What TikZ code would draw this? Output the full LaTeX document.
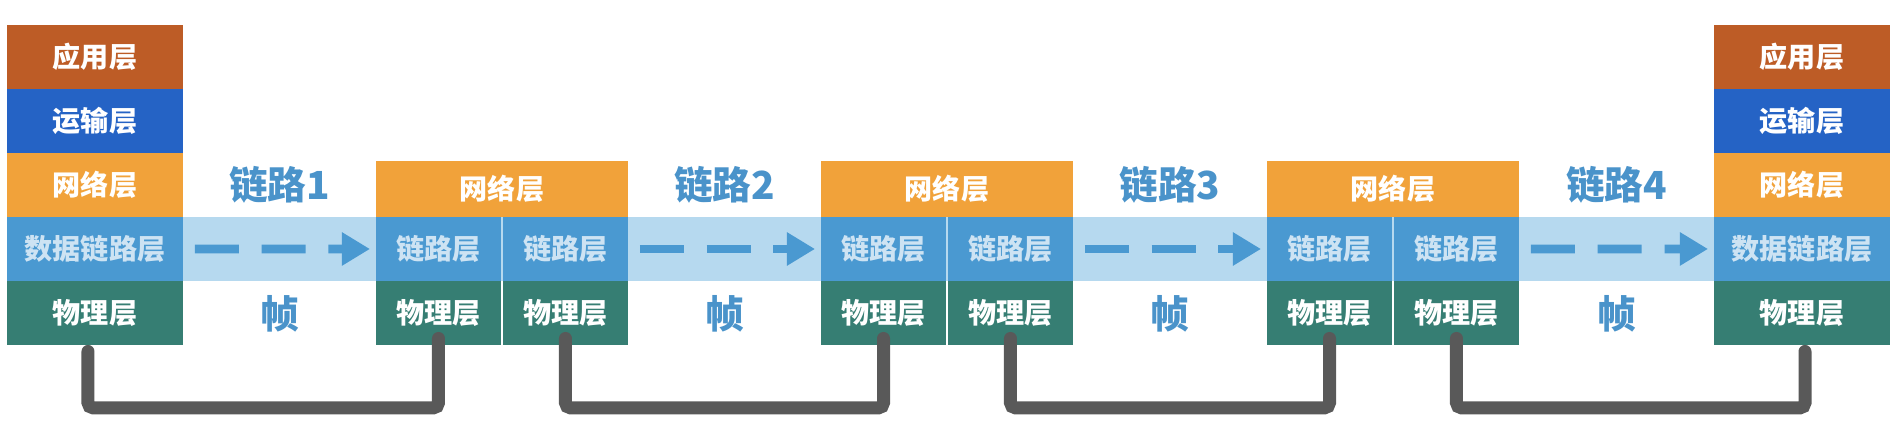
\documentclass[tikz,border=0pt]{standalone}
\usepackage{fontspec}
\newfontfamily\cjk{Noto Sans CJK SC}
\usepackage{tikz}
\usetikzlibrary{positioning, arrows.meta, calc, backgrounds}
\definecolor{appc}{HTML}{BD5C26}
\definecolor{trc}{HTML}{2563C5}
\definecolor{netc}{HTML}{F1A23A}
\definecolor{dlc}{HTML}{4A99D1}
\definecolor{dltext}{HTML}{CDE3F3}
\definecolor{phc}{HTML}{367E73}
\definecolor{bandc}{HTML}{B6D9EF}
\definecolor{wirec}{HTML}{595959}
\definecolor{lblc}{HTML}{4A93CA}
\tikzset{
  layer/.style={minimum width=3.52cm, minimum height=1.28cm, inner sep=0pt, outer sep=0pt,
    text=white, font=\cjk\bfseries\fontsize{16}{16}\selectfont},
  half/.style={layer, minimum width=2.5cm},
  netbox/.style={layer, fill=netc, minimum width=5.04cm, minimum height=1.12cm},
  band/.style={fill=bandc},
  flow/.style={draw=dlc, line width=5pt, dash pattern=on 25pt off 13pt,
    -{Triangle[length=16pt, width=18pt]}},
  wire/.style={draw=wirec, line width=7.4pt, line cap=round, rounded corners=3pt},
  linklbl/.style={text=lblc, font=\cjk\bfseries\fontsize{22}{22}\selectfont}
}

\begin{document}
\begin{tikzpicture}[x=0.02cm, y=0.02cm]
\useasboundingbox (0,0) rectangle (1902,430);
\foreach \s/\x in {L/7, R/1714} {
  \node[layer, fill=appc, anchor=north west] (ap\s) at (\x,405) {应用层};
  \node[layer, fill=trc, below=0pt of ap\s] (tr\s) {运输层};
  \node[layer, fill=netc, below=0pt of tr\s] (nt\s) {网络层};
  \node[layer, fill=dlc, text=dltext, below=0pt of nt\s] (dl\s) {数据链路层};
  \node[layer, fill=phc, below=0pt of dl\s] (ph\s) {物理层};
}
\foreach \i/\x in {1/376, 2/821, 3/1267} {
  \node[netbox, anchor=north west] (nt\i) at (\x,269) {网络层};
  \node[half, fill=dlc, text=dltext, anchor=north west] (la\i) at (nt\i.south west) {链路层};
  \node[half, fill=dlc, text=dltext, anchor=north east] (lb\i) at (nt\i.south east) {链路层};
  \node[half, fill=phc, below=0pt of la\i] (pa\i) {物理层};
  \node[half, fill=phc, below=0pt of lb\i] (pb\i) {物理层};
}
\begin{scope}[on background layer]
\fill[band] (dlL.north east) rectangle (dlR.south west);
\end{scope}
\foreach \a/\b/\n in {dlL/la1/1, lb1/la2/2, lb2/la3/3, lb3/dlR/4} {
  \draw[flow] ([xshift=0.24cm]\a.east) -- ([xshift=-0.12cm]\b.west);
  \node[linklbl] (lk\n) at ($(\a.east)!0.5!(\b.west)+(0,64)$) {链路\n};
  \node[linklbl] (fr\n) at ($(\a.east)!0.5!(\b.west)+(0,-65)$) {帧};
}
\draw[wire] ([xshift=-0.14cm, yshift=-0.13cm]phL.south) -- ++(0,-56.5) -| ([yshift=0.13cm]pa1.south);
\draw[wire] ([yshift=0.13cm]pb1.south) -- ++(0,-69.5) -| ([yshift=0.13cm]pa2.south);
\draw[wire] ([yshift=0.13cm]pb2.south) -- ++(0,-69.5) -| ([yshift=0.13cm]pa3.south);
\draw[wire] ([yshift=0.13cm]pb3.south) -- ++(0,-69.5) -| ([xshift=0.06cm, yshift=-0.13cm]phR.south);
\end{tikzpicture}
\end{document}
